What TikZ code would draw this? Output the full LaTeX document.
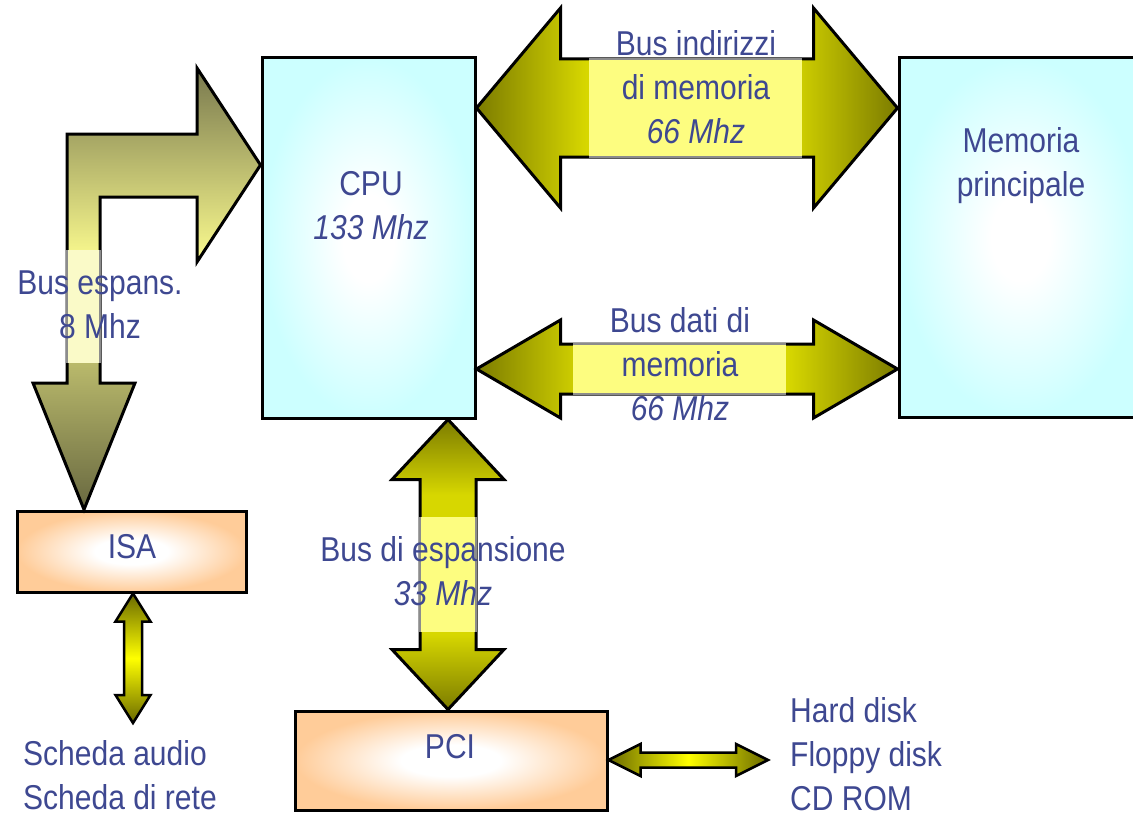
\documentclass[tikz,border=0pt]{standalone}
\usepackage{fontspec}
\newfontfamily\busfont[FakeStretch=0.87]{Liberation Sans}
\usetikzlibrary{calc}
\definecolor{txtblue}{RGB}{62,72,145}
\definecolor{cyanbox}{RGB}{204,255,255}
\definecolor{peachbox}{RGB}{255,204,153}
\definecolor{busdk}{RGB}{124,124,0}
\definecolor{busyl}{RGB}{215,215,0}
\definecolor{smalldk}{RGB}{105,105,0}
\definecolor{smallyl}{RGB}{255,255,0}
\definecolor{kdktop}{RGB}{120,120,78}
\definecolor{kyl}{RGB}{246,246,140}
\definecolor{kdkbot}{RGB}{104,104,64}
\definecolor{lblyl}{RGB}{253,253,128}
\definecolor{lblcream}{RGB}{250,250,200}
\definecolor{edgegray}{RGB}{140,140,140}
\pgfdeclarehorizontalshading{hbus}{100bp}{color(0bp)=(busdk); color(25bp)=(busdk); color(38bp)=(busyl); color(62bp)=(busyl); color(75bp)=(busdk); color(100bp)=(busdk)}
\pgfdeclareverticalshading{vbus}{100bp}{color(0bp)=(busdk); color(25bp)=(busdk); color(38bp)=(busyl); color(62bp)=(busyl); color(75bp)=(busdk); color(100bp)=(busdk)}
\pgfdeclareverticalshading{bentshade}{100bp}{color(0bp)=(kdkbot); color(25bp)=(kdkbot); color(54bp)=(kyl); color(75bp)=(kdktop); color(100bp)=(kdktop)}
\pgfdeclareradialshading{cyanshade}{\pgfpoint{0bp}{0bp}}{color(0bp)=(white); color(6bp)=(white); color(25bp)=(cyanbox); color(50bp)=(cyanbox)}
\pgfdeclareradialshading{peachshade}{\pgfpoint{0bp}{0bp}}{color(0bp)=(white); color(8bp)=(white); color(25bp)=(peachbox); color(50bp)=(peachbox)}
\newcommand\dblarrow[6]{%
  \coordinate (dA) at (#2); \coordinate (dB) at (#3);
  \coordinate (dhA) at ($(dA)!#6!(dB)$);
  \coordinate (dhB) at ($(dB)!#6!(dA)$);
  \draw[#1] (dA) -- ($(dhA)!#5!90:(dB)$) -- ($(dhA)!#4!90:(dB)$) -- ($(dhB)!#4!-90:(dA)$) -- ($(dhB)!#5!-90:(dA)$) -- (dB) -- ($(dhB)!#5!90:(dA)$) -- ($(dhB)!#4!90:(dA)$) -- ($(dhA)!#4!-90:(dB)$) -- ($(dhA)!#5!-90:(dB)$) -- cycle;}
\tikzset{
  box/.style={draw=black, line width=3pt, inner sep=0pt},
  cpubox/.style={box, shading=cyanshade},
  iobox/.style={box, shading=peachshade},
  bigbus/.style={draw=black, line width=3pt},
  hshade/.style={bigbus, shading=hbus},
  vshade/.style={bigbus, shading=vbus},
  smallh/.style={draw=black, line width=2.5pt, left color=smalldk, right color=smalldk, middle color=smallyl},
  smallv/.style={draw=black, line width=2.5pt, top color=smalldk, bottom color=smalldk, middle color=smallyl},
  bentbus/.style={draw=black, line width=3pt, shading=bentshade},
  lblbg/.style={fill=lblyl},
  lblbg2/.style={fill=lblcream},
  lbledge/.style={draw=edgegray, line width=2.5pt},
  txt/.style={text=txtblue, font=\busfont\fontsize{34.5}{44}\selectfont, inner sep=0pt, align=center}
}
\begin{document}
\begin{tikzpicture}[x=1pt,y=-1pt]
\useasboundingbox (0,0) rectangle (1133,816);
% boxes
\node[cpubox, minimum width=213pt, minimum height=360pt] (cpu) at (368.5,238) {};
\node[cpubox, minimum width=243pt, minimum height=359pt] (mem) at (1020.5,237.5) {};
\node[iobox, minimum width=229pt, minimum height=81pt] (isa) at (131.5,551.5) {};
\node[iobox, minimum width=312pt, minimum height=99pt] (pci) at (451,760.5) {};
% bent expansion bus arrow
\coordinate (bt) at (cpu.west |- 0,165);
\coordinate (bd) at (isa.north -| 84,0);
\draw[bentbus] (67,134) -- (197,134) -- (197,68) -- (bt) -- (197,262) -- (197,197) -- (100,197) -- (100,383) -- (135,383) -- (bd) -- (33,383) -- (67,383) -- cycle;
\fill[lblbg2] (67,250) rectangle (100,363);
\draw[lbledge] (67,250) -- (67,363) (100,250) -- (100,363);
% address bus
\coordinate (ab1) at (cpu.east |- 0,108);
\coordinate (ab2) at (mem.west |- 0,108);
\dblarrow{hshade}{ab1}{ab2}{49pt}{100pt}{84pt}
\fill[lblbg] (589,59) rectangle (802,157);
\draw[lbledge] (589,59) -- (802,59) (589,157) -- (802,157);
% data bus
\coordinate (db1) at (cpu.east |- 0,369);
\coordinate (db2) at (mem.west |- 0,369);
\dblarrow{hshade}{db1}{db2}{25pt}{49pt}{84pt}
\fill[lblbg] (573,344) rectangle (786,394);
\draw[lbledge] (573,344) -- (786,344) (573,394) -- (786,394);
% expansion bus CPU-PCI
\coordinate (eb1) at (cpu.south -| 448,0);
\coordinate (eb2) at (pci.north -| 448,0);
\dblarrow{vshade}{eb1}{eb2}{28pt}{56pt}{60pt}
\fill[lblbg] (420,517) rectangle (476,632);
\draw[lbledge] (420,517) -- (420,632) (476,517) -- (476,632);
% small arrows
\coordinate (cardsend) at (133,723);
\coordinate (isaout) at (isa.south -| 133,0);
\dblarrow{smallv}{isaout}{cardsend}{9pt}{17.5pt}{28pt}
\coordinate (pciout) at (pci.east |- 0,760);
\coordinate (devend) at (768,760);
\dblarrow{smallh}{pciout}{devend}{7.5pt}{16pt}{32pt}
% texts
\node[txt] (lab-addr) at (696,87) {Bus indirizzi\\di memoria\\\textit{66 Mhz}};
\node[txt] (lab-data) at (680,364) {Bus dati di\\memoria\\\textit{66 Mhz}};
\node[txt] (lab-cpu) at (371,206) {CPU\\\textit{133 Mhz}};
\node[txt] (lab-mem) at (1021,165.5) {Memoria\\principale};
\node[txt] (lab-isabus) at (100,304.5) {Bus espans.\\8 Mhz};
\node[txt] (lab-exp) at (443,571) {Bus di espansione\\\textit{33 Mhz}};
\node[txt] (lab-isa) at (132,546.5) {ISA};
\node[txt] (lab-pci) at (450,746.5) {PCI};
\node[txt, align=left, anchor=west] (lab-cards) at (23,775) {Scheda audio\\Scheda di rete};
\node[txt, align=left, anchor=west] (lab-dev) at (790,754) {Hard disk\\Floppy disk\\CD ROM};
\end{tikzpicture}
\end{document}
